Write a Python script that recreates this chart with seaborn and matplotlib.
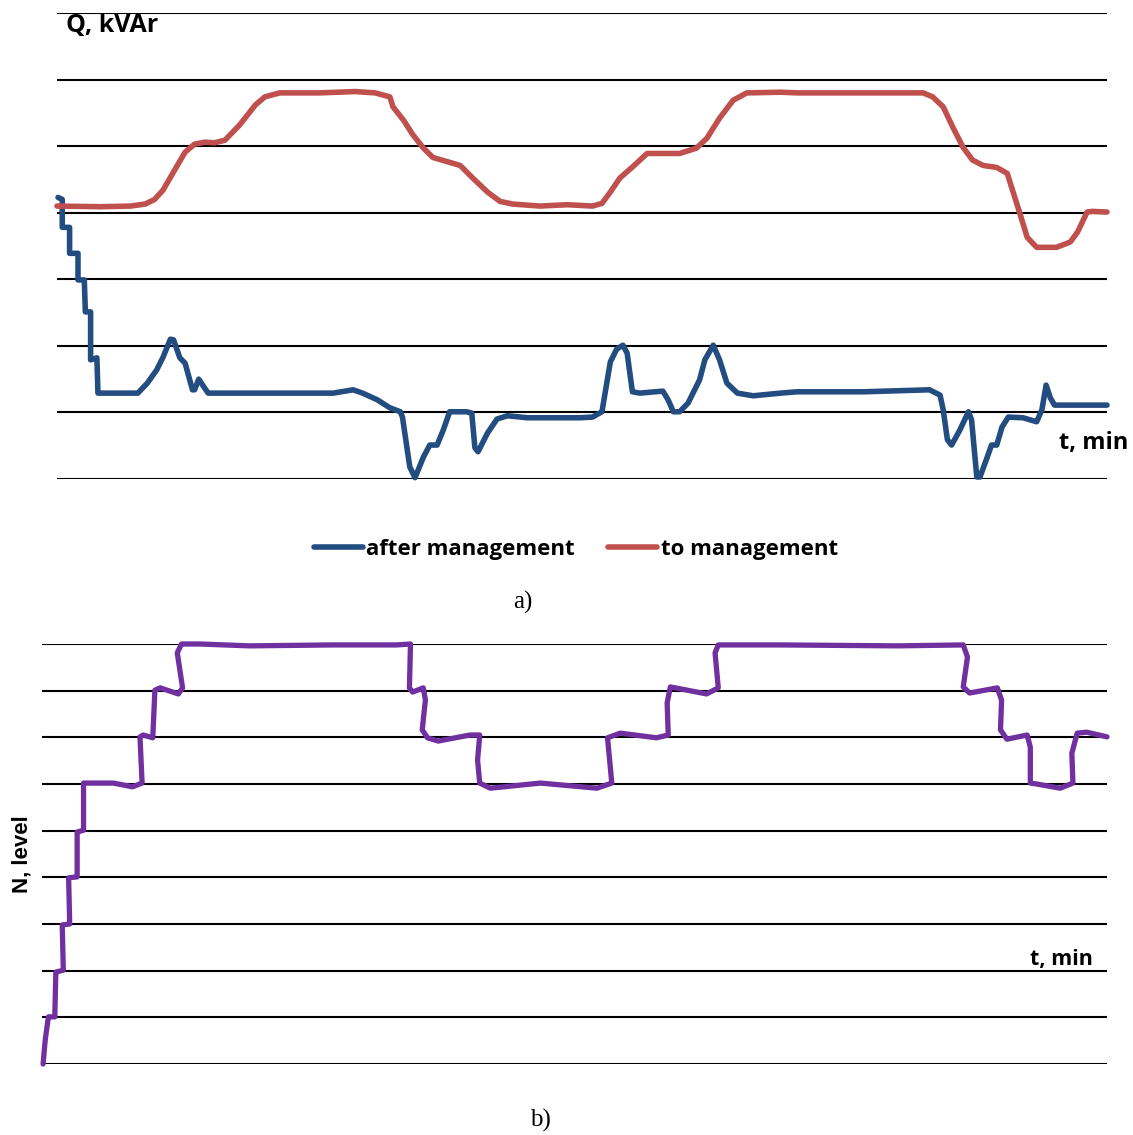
import matplotlib
matplotlib.use("Agg")
import matplotlib.pyplot as plt
import seaborn as sns
import pandas as pd

# ---- data ----
# panel a): reactive power Q (kVAr) vs time t (min)
t_to = [0, 4.1, 7.0, 8.4, 9.3, 10.1, 11.2, 12.2, 13.1, 14.1, 15.0, 16.0, 17.4, 18.9, 19.8, 21.2,
        25.0, 28.4, 30.3, 31.7, 32.0, 33.0, 33.9, 34.9, 35.8, 37.1, 38.4, 39.6, 41.0, 42.2, 43.4,
        46.0, 48.6, 51.0, 51.9, 52.7, 53.6, 54.9, 56.2, 57.4, 59.3, 60.9, 61.9, 63.1, 64.4, 65.7,
        68.9, 70.5, 76.8, 80.6, 82.5, 83.4, 84.4, 85.3, 86.3, 87.2, 88.2, 89.5, 90.5, 91.0, 91.7,
        92.4, 93.3, 95.2, 96.5, 97.2, 98.1, 98.6, 100]
q_to = [410, 409, 410, 413, 420, 434, 464, 491, 503, 506, 505, 509, 532, 562, 574, 580,
        580, 582, 580, 574, 559, 539, 517, 497, 483, 477, 471, 452, 431, 417, 413,
        410, 412, 410, 414, 431, 452, 470, 489, 489, 489, 497, 512, 542, 569, 580,
        581, 580, 580, 580, 580, 574, 559, 529, 498, 479, 471, 468, 459, 434, 399,
        363, 348, 348, 356, 371, 401, 402, 401]

t_after = [0.1, 0.5, 0.5, 1.2, 1.2, 2.0, 2.0, 2.6, 2.7, 3.2, 3.2, 3.8, 3.9, 4.8, 7.2, 7.7,
           8.6, 9.5, 10.1, 10.8, 11.1, 11.7, 12.2, 12.9, 13.1, 13.5, 14.0, 14.4, 16.8, 26.3,
           28.2, 29.1, 30.5, 31.7, 32.7, 32.9, 33.6, 34.1, 34.9, 35.5, 36.2, 36.8, 37.4, 39.0,
           39.5, 39.8, 40.1, 41.0, 41.9, 42.9, 44.8, 49.8, 51.0, 51.9, 52.7, 53.3, 53.9, 54.3,
           54.8, 55.5, 57.7, 58.2, 58.7, 59.3, 60.1, 61.2, 61.7, 62.5, 63.1, 63.8, 64.8, 66.3,
           68.9, 70.5, 76.8, 83.1, 84.1, 84.4, 84.8, 85.2, 86.0, 86.8, 87.1, 87.6, 87.9, 88.6,
           89.0, 89.5, 90.0, 90.6, 92.0, 93.3, 93.8, 94.2, 94.6, 95.0, 96.5, 100]
q_after = [423, 420, 378, 378, 339, 339, 299, 299, 251, 251, 179, 182, 129, 129, 129, 129,
           144, 164, 183, 210, 209, 182, 174, 134, 134, 150, 138, 129, 129, 129,
           134, 129, 119, 107, 101, 93, 18, 2, 33, 51, 51, 74, 101, 101,
           99, 47, 41, 69, 90, 95, 92, 92, 93, 101, 176, 195, 201, 189,
           131, 129, 132, 119, 101, 101, 114, 149, 179, 201, 179, 144, 129, 125,
           129, 131, 131, 134, 126, 104, 59, 51, 74, 101, 89, 3, 3, 33,
           51, 51, 78, 93, 92, 86, 104, 141, 122, 111, 111, 111]

# panel b): compensation level N vs time t (min)
t_level = [0.1, 0.3, 0.6, 1.2, 1.3, 2.0, 1.9, 2.6, 2.5, 3.3, 3.3, 3.9, 3.9, 4.5, 6.7, 8.5, 9.4,
           9.2, 9.5, 10.4, 10.6, 11.1, 12.8, 13.2, 12.7, 13.1, 14.8, 19.5, 27.3, 33.3, 34.6,
           34.5, 34.8, 35.8, 36.0, 35.7, 36.2, 37.2, 40.2, 41.1, 40.9, 41.1, 42.1, 46.8, 52.1,
           53.5, 53.3, 53.1, 54.3, 57.7, 58.8, 58.7, 59.0, 62.4, 63.5, 63.2, 63.5, 66.2, 69.3,
           80.3, 86.5, 86.9, 86.5, 87.1, 89.7, 90.1, 90.0, 90.6, 92.5, 92.8, 92.8, 93.4, 95.6,
           96.8, 96.7, 97.2, 98.1, 100]
n_level = [0.0, 0.51, 1.01, 1.01, 1.97, 2.01, 2.98, 3.0, 3.99, 4.01, 4.97, 5.01, 6.02, 6.02, 6.02, 5.94, 6.02,
           7.01, 7.05, 6.99, 8.01, 8.06, 7.93, 8.06, 8.81, 9.0, 9.0, 8.96, 8.98, 8.98, 9.0,
           8.06, 7.97, 8.06, 7.80, 7.16, 6.99, 6.92, 7.05, 7.05, 6.51, 6.02, 5.91, 6.02, 5.91,
           6.02, 6.51, 6.99, 7.09, 6.99, 7.05, 7.74, 8.08, 7.93, 8.06, 8.81, 8.98, 8.98, 8.98,
           8.96, 8.98, 8.72, 8.08, 7.95, 8.06, 7.80, 7.16, 6.96, 7.05, 6.79, 6.02, 6.0, 5.91,
           6.02, 6.66, 7.09, 7.11, 7.01]

series_names = ["after management", "to management"]
q_grid = [0, 100, 200, 300, 400, 500, 600, 700]
n_grid = [0, 1, 2, 3, 4, 5, 6, 7, 8, 9]

BLUE = "#234D80"
RED = "#C0504D"
PURPLE = "#7030A0"

df_q = pd.concat([
    pd.DataFrame({"t": t_after, "Q": q_after, "series": series_names[0]}),
    pd.DataFrame({"t": t_to, "Q": q_to, "series": series_names[1]}),
], ignore_index=True)
df_n = pd.DataFrame({"t": t_level, "N": n_level})

sns.set_theme(style="white")
plt.rcParams["font.family"] = ["Open Sans", "DejaVu Sans"]
plt.rcParams["text.color"] = "black"

W, H = 1133, 1135
fig = plt.figure(figsize=(W / 100, H / 100), dpi=100)

def fx(px):
    return px / W

def fy(py):
    return 1 - py / H

# ---- panel a ----
ax1 = fig.add_axes([fx(57), fy(479), fx(1107) - fx(57), fy(13) - fy(479)])
sns.lineplot(data=df_q, x="t", y="Q", hue="series", hue_order=series_names,
             palette=[BLUE, RED], sort=False, estimator=None, ax=ax1,
             linewidth=4.0, solid_capstyle="round", solid_joinstyle="round", clip_on=False)
ax1.set_xlim(0, 100)
ax1.set_ylim(0, 700)
ax1.set_yticks(q_grid)
ax1.yaxis.grid(True, color="black", linewidth=1.5)
ax1.xaxis.grid(False)
ax1.set_xticks([])
ax1.set_yticklabels([])
ax1.tick_params(left=False, bottom=False)
for s in ax1.spines.values():
    s.set_visible(False)
ax1.set_xlabel("")
ax1.set_ylabel("")
ax1.set_axisbelow(True)

sns.move_legend(ax1, "center", bbox_to_anchor=((fx(307) + fx(845)) / 2, fy(549)),
                bbox_transform=fig.transFigure, ncol=2, frameon=False, title=None,
                handlelength=2.2, handletextpad=0.15, columnspacing=1.5,
                prop={"weight": "bold", "size": 16})
for h in ax1.get_legend().get_lines():
    h.set_linewidth(4.0)
    h.set_solid_capstyle("round")
for txt in ax1.get_legend().get_texts():
    txt.set_color("black")

fig.text(fx(66), fy(25), "Q, kVAr", ha="left", va="center", fontsize=18, fontweight="bold")
fig.text(fx(1128), fy(443), "t, min", ha="right", va="center", fontsize=17, fontweight="bold")
fig.text(fx(523), fy(602), "a)", ha="center", va="center", fontsize=18,
         family=["Liberation Serif", "DejaVu Serif"])

# ---- panel b ----
ax2 = fig.add_axes([fx(42), fy(1064), fx(1107) - fx(42), fy(644) - fy(1064)])
sns.lineplot(data=df_n, x="t", y="N", color=PURPLE, sort=False, estimator=None, ax=ax2,
             linewidth=3.8, solid_capstyle="round", solid_joinstyle="round", clip_on=False)
ax2.set_xlim(0, 100)
ax2.set_ylim(0, 9)
ax2.set_yticks(n_grid)
ax2.yaxis.grid(True, color="black", linewidth=1.5)
ax2.xaxis.grid(False)
ax2.set_xticks([])
ax2.set_yticklabels([])
ax2.tick_params(left=False, bottom=False)
for s in ax2.spines.values():
    s.set_visible(False)
ax2.set_xlabel("")
ax2.set_ylabel("")
ax2.set_axisbelow(True)

fig.text(fx(1061), fy(959), "t, min", ha="center", va="center", fontsize=15.5, fontweight="bold")
fig.text(fx(22), fy(854), "N, level", ha="center", va="center", rotation=90, fontsize=16,
         fontweight="bold", family=["Liberation Sans", "DejaVu Sans"])
fig.text(fx(540), fy(1120), "b)", ha="center", va="center", fontsize=18,
         family=["Liberation Serif", "DejaVu Serif"])

fig.savefig("out.png", dpi=100)
